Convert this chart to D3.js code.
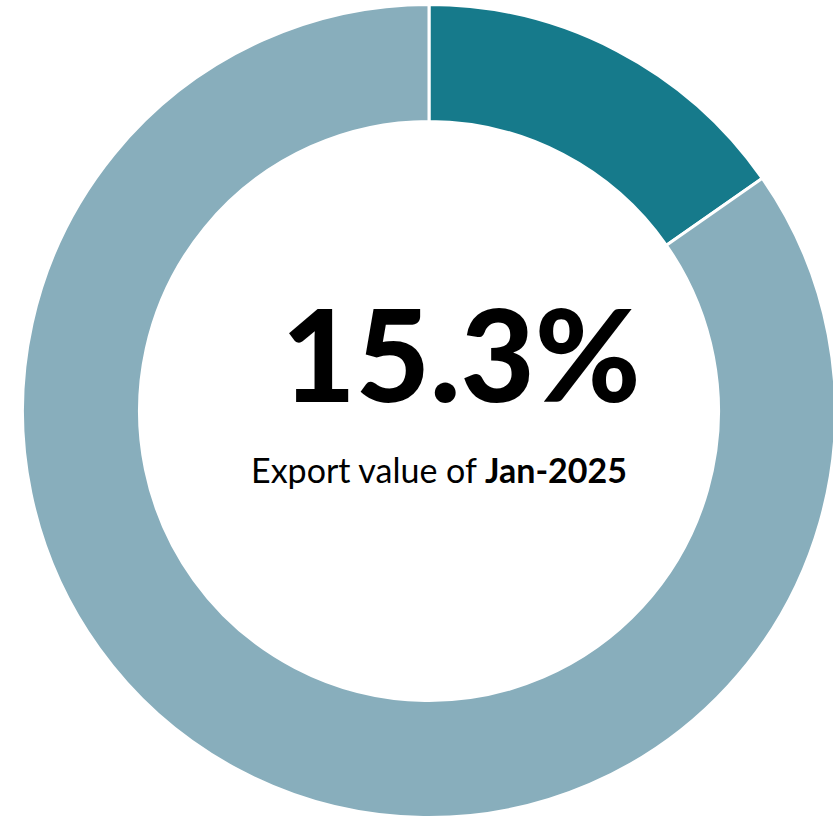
<!DOCTYPE html>
<html>
<head>
<meta charset="utf-8">
<script src="https://cdn.jsdelivr.net/npm/d3@7"></script>
<style>
  html, body { margin: 0; padding: 0; background: #fff; }
  svg { display: block; }
</style>
</head>
<body>
<div id="graph"></div>
<script>
// share of export value, Jan-2025
var segments = ["Share", "Rest"];
var values = [15.3, 84.7];
var colors = ["#167a8b", "#88aebc"];
var headline = "15.3%";
var subtitle = "Export value of ";
var subtitleBold = "Jan-2025";

var width = 833,
    height = 818,
    cx = 429,
    cy = 411,
    outer = 405,
    inner = 291;

var svg = d3.select("#graph")
  .append("svg")
    .attr("width", width)
    .attr("height", height);

var g = svg.append("g")
    .attr("transform", "translate(" + cx + "," + cy + ")");

var pie = d3.pie()
    .sort(null)
    .value(function (d) { return d; });

// stroke eats half its width on each edge, so widen the ring a little
var arc = d3.arc()
    .innerRadius(inner - 1.5)
    .outerRadius(outer + 1.5);

g.selectAll("path")
  .data(pie(values))
  .enter()
  .append("path")
    .attr("d", arc)
    .style("fill", function (d, i) { return colors[i]; })
    .style("stroke", "#fff")
    .style("stroke-width", 3);

// centre text
svg.append("text")
    .attr("x", 461)
    .attr("y", 402)
    .style("text-anchor", "middle")
    .style("font-family", "Lato, 'Open Sans', sans-serif")
    .style("font-weight", 900)
    .style("font-size", "128px")
    .style("fill", "#000")
    .text(headline);

var sub = svg.append("text")
    .attr("x", 439)
    .attr("y", 483)
    .style("text-anchor", "middle")
    .style("font-family", "Lato, 'Open Sans', sans-serif")
    .style("font-size", "34px")
    .style("fill", "#000");

sub.append("tspan").text(subtitle);
sub.append("tspan").style("font-weight", "bold").text(subtitleBold);
</script>
</body>
</html>
